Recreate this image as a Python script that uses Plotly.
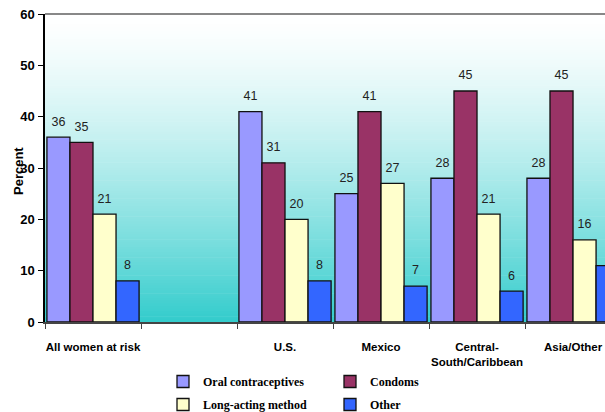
import plotly.graph_objects as go

categories = ["All women at risk", " ", "U.S.", "Mexico", "Central-<br>South/Caribbean", "Asia/Other"]
series_names = ["Oral contraceptives", "Condoms", "Long-acting method", "Other"]
oral = [36, None, 41, 25, 28, 28]
condoms = [35, None, 31, 41, 45, 45]
long_acting = [21, None, 20, 27, 21, 16]
other = [8, None, 8, 7, 6, 11]
colors = ["#9999FF", "#993366", "#FFFFCC", "#3366FF"]
y_ticks = [0, 10, 20, 30, 40, 50, 60]

SANS = "Liberation Sans Narrow, Arial Narrow, Liberation Sans, Arial"
SERIF = "Liberation Serif, Times New Roman, serif"

fig = go.Figure()
legends = ["legend", "legend2", "legend", "legend2"]
all_vals = [oral, condoms, long_acting, other]
for k, (name, vals, col, lg) in enumerate(zip(series_names, all_vals, colors, legends)):
    fig.add_trace(go.Bar(
        x=categories, y=vals, name=name,
        marker=dict(color=col, line=dict(color="#111111", width=1.3)),
        offsetgroup=str(k), alignmentgroup="a",
        legend=lg, legendgroup=name,
    ))
# value labels, aligned with grouped bars
for k, (name, vals) in enumerate(zip(series_names, all_vals)):
    fig.add_trace(go.Scatter(
        x=categories, y=vals, mode="markers+text",
        text=[("" if v is None else str(v)) for v in vals],
        textposition="top center", cliponaxis=False,
        marker=dict(size=12, opacity=0),
        textfont=dict(family=SANS, size=12.5, color="#222222"),
        offsetgroup=str(k), alignmentgroup="a",
        showlegend=False, hoverinfo="skip",
    ))

# vertical gradient background (white -> teal)
shapes = []
N = 120
top = (255, 255, 255)
bot = (51, 204, 204)
for i in range(N):
    t = (i + 0.5) / N  # 0 at top
    f = t ** 1.4
    c = tuple(int(round(top[j] + (bot[j] - top[j]) * f)) for j in range(3))
    shapes.append(dict(type="rect", xref="x domain", yref="y domain",
                       x0=0, x1=1, y0=1 - (i + 1) / N, y1=1 - i / N + 0.002,
                       fillcolor="rgb(%d,%d,%d)" % c, line=dict(width=0), layer="below"))
shapes.append(dict(type="line", xref="x domain", yref="y domain", x0=0, x1=1, y0=1, y1=1,
                   line=dict(color="#888888", width=2), layer="above"))

legend_common = dict(yanchor="top", xanchor="left", orientation="v",
                     font=dict(family=SERIF, size=12, color="black", weight="bold"),
                     traceorder="grouped", tracegroupgap=4, itemwidth=30,
                     bgcolor="rgba(0,0,0,0)")

fig.update_layout(
    width=605, height=412,
    margin=dict(l=45, r=0, t=14, b=90, autoexpand=False),
    paper_bgcolor="white", plot_bgcolor="rgba(0,0,0,0)",
    barmode="group", bargap=0.04, bargroupgap=0,
    scattermode="group", scattergap=0.04,
    shapes=shapes,
    showlegend=True,
    legend=dict(x=(163 - 45) / 560, y=-(367 - 322) / 308, **legend_common),
    legend2=dict(x=(330 - 45) / 560, y=-(367 - 322) / 308, **legend_common),
    xaxis=dict(type="category", range=[-0.5, 5.333], tickson="boundaries",
               ticks="outside", ticklen=5, tickcolor="#444444", tickangle=0,
               showline=True, linecolor="#444444", linewidth=1.5,
               tickfont=dict(family=SANS, size=11.5, color="black", weight="bold"),
               ticklabelstandoff=13, showgrid=False, automargin=False),
    yaxis=dict(range=[0, 60], tickvals=y_ticks, ticks="outside", ticklen=5, tickcolor="black",
               showline=True, linecolor="black", linewidth=1.5, showgrid=False, zeroline=False,
               automargin=False, ticklabelstandoff=1,
               tickfont=dict(family=SANS, size=13, color="black", weight="bold")),
    annotations=[dict(text="Percent", xref="paper", yref="paper",
                      x=(18 - 45) / 560, y=(322 - 171) / 308, textangle=-90,
                      showarrow=False, xanchor="center", yanchor="middle",
                      font=dict(family=SANS, size=13, color="black", weight="bold"))],
)

fig.write_html("out.html")
